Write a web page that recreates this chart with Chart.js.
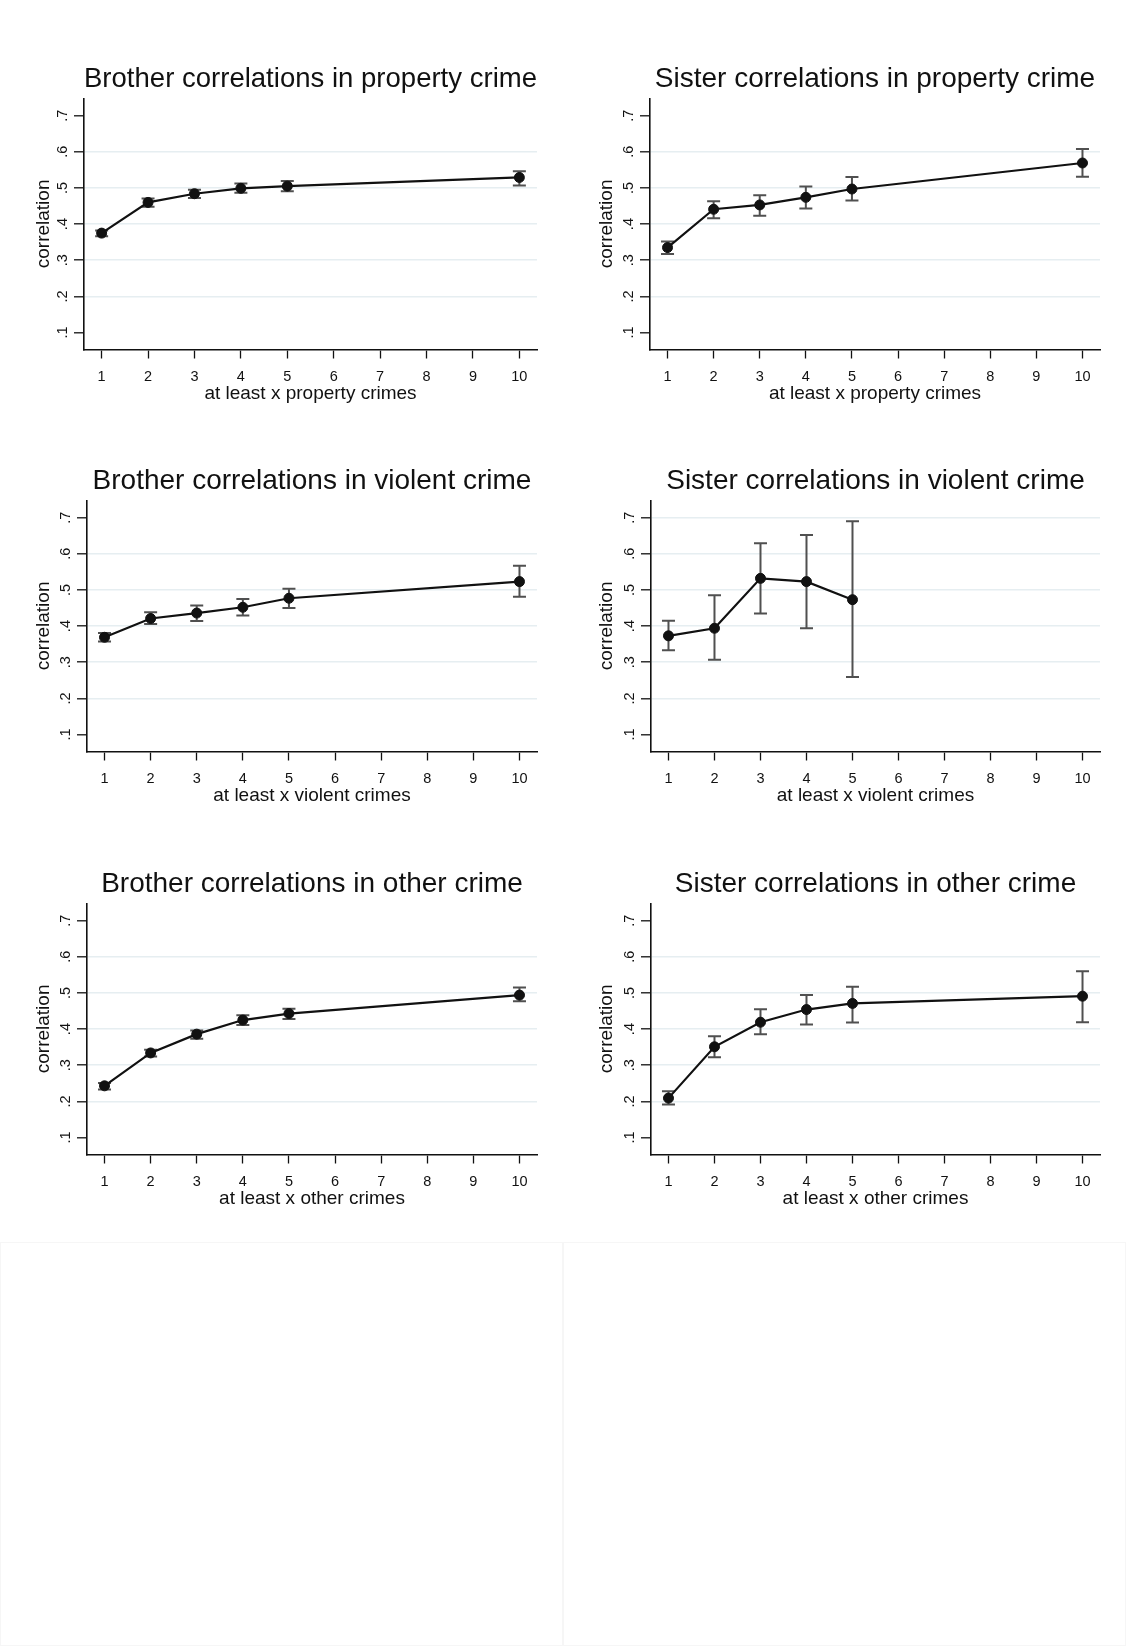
<!DOCTYPE html>
<html lang="en">
<head>
  <meta charset="UTF-8">
  <title>Sibling correlations in crime</title>
  <script src="https://cdn.jsdelivr.net/npm/chart.js"></script>
  <style>
    body {
      margin: 0;
      width: 1126px;
      height: 1646px;
      position: relative;
      overflow: hidden;
      background: #fff;
      font-family: 'Liberation Sans', Arial, sans-serif;
    }
    canvas { position: absolute; }
    .blank {
      position: absolute;
      top: 1242px;
      width: 561px;
      height: 402px;
      border: 1px solid #f6f6f6;
    }
  </style>
</head>
<body>
  <canvas id="c1" width="563" height="420" style="left:0;top:0"></canvas>
  <canvas id="c2" width="563" height="420" style="left:563px;top:0"></canvas>
  <canvas id="c3" width="563" height="420" style="left:0;top:402px"></canvas>
  <canvas id="c4" width="563" height="420" style="left:563px;top:402px"></canvas>
  <canvas id="c5" width="563" height="420" style="left:0;top:805px"></canvas>
  <canvas id="c6" width="563" height="420" style="left:563px;top:805px"></canvas>
  <div class="blank" style="left:0"></div>
  <div class="blank" style="left:563px"></div>

  <script>
    // axis ticks
    const xTicks = [1, 2, 3, 4, 5, 6, 7, 8, 9, 10];
    const yTicks = [0.1, 0.2, 0.3, 0.4, 0.5, 0.6, 0.7];

    // "at least x crimes"
    const xCrimes = [1, 2, 3, 4, 5, 10];
    const xSisterViolent = [1, 2, 3, 4, 5];

    const brotherProperty   = [0.375, 0.460, 0.484, 0.499, 0.505, 0.529];
    const brotherPropertyLo = [0.366, 0.448, 0.472, 0.487, 0.491, 0.507];
    const brotherPropertyHi = [0.382, 0.471, 0.495, 0.512, 0.519, 0.546];

    const sisterProperty    = [0.335, 0.441, 0.453, 0.474, 0.497, 0.569];
    const sisterPropertyLo  = [0.317, 0.416, 0.423, 0.443, 0.465, 0.531];
    const sisterPropertyHi  = [0.352, 0.463, 0.480, 0.504, 0.530, 0.608];

    const brotherViolent    = [0.369, 0.421, 0.436, 0.452, 0.477, 0.523];
    const brotherViolentLo  = [0.357, 0.406, 0.414, 0.429, 0.450, 0.481];
    const brotherViolentHi  = [0.381, 0.438, 0.457, 0.475, 0.503, 0.567];

    const sisterViolent     = [0.373, 0.394, 0.532, 0.523, 0.473];
    const sisterViolentLo   = [0.333, 0.307, 0.435, 0.394, 0.259];
    const sisterViolentHi   = [0.415, 0.485, 0.629, 0.652, 0.690];

    const brotherOther      = [0.243, 0.334, 0.386, 0.425, 0.443, 0.494];
    const brotherOtherLo    = [0.233, 0.324, 0.373, 0.411, 0.428, 0.477];
    const brotherOtherHi    = [0.251, 0.343, 0.396, 0.438, 0.456, 0.515];

    const sisterOther       = [0.209, 0.351, 0.419, 0.454, 0.471, 0.491];
    const sisterOtherLo     = [0.191, 0.322, 0.386, 0.413, 0.418, 0.419];
    const sisterOtherHi     = [0.228, 0.380, 0.455, 0.494, 0.517, 0.560];

    const gridShort = [0.2, 0.3, 0.4, 0.5, 0.6];
    const gridLong = [0.2, 0.3, 0.4, 0.5, 0.6, 0.7];

    const panels = [
      { id: 'c1', title: 'Brother correlations in property crime', xTitle: 'at least x property crimes',
        x: xCrimes, y: brotherProperty, lo: brotherPropertyLo, hi: brotherPropertyHi, grid: gridShort, axisLeft: 84 },
      { id: 'c2', title: 'Sister correlations in property crime', xTitle: 'at least x property crimes',
        x: xCrimes, y: sisterProperty, lo: sisterPropertyLo, hi: sisterPropertyHi, grid: gridShort, axisLeft: 87 },
      { id: 'c3', title: 'Brother correlations in violent crime', xTitle: 'at least x violent crimes',
        x: xCrimes, y: brotherViolent, lo: brotherViolentLo, hi: brotherViolentHi, grid: gridShort, axisLeft: 87 },
      { id: 'c4', title: 'Sister correlations in violent crime', xTitle: 'at least x violent crimes',
        x: xSisterViolent, y: sisterViolent, lo: sisterViolentLo, hi: sisterViolentHi, grid: gridLong, axisLeft: 88 },
      { id: 'c5', title: 'Brother correlations in other crime', xTitle: 'at least x other crimes',
        x: xCrimes, y: brotherOther, lo: brotherOtherLo, hi: brotherOtherHi, grid: gridShort, axisLeft: 87 },
      { id: 'c6', title: 'Sister correlations in other crime', xTitle: 'at least x other crimes',
        x: xCrimes, y: sisterOther, lo: sisterOtherLo, hi: sisterOtherHi, grid: gridShort, axisLeft: 88 }
    ];

    const FONT = "'Liberation Sans', Arial, sans-serif";
    const INK = '#111';
    Chart.defaults.font.family = FONT;
    Chart.defaults.color = INK;

    // error bars (rcap) + rotated y tick labels
    const stataBits = {
      id: 'stataBits',
      beforeDatasetsDraw(chart) {
        const { ctx, scales: { x, y } } = chart;
        const ds = chart.data.datasets[0];
        ctx.save();
        ctx.strokeStyle = '#505050';
        ctx.lineWidth = 2;
        ds.data.forEach((pt, i) => {
          const px = x.getPixelForValue(pt.x);
          const pl = y.getPixelForValue(ds.errLo[i]);
          const ph = y.getPixelForValue(ds.errHi[i]);
          ctx.beginPath();
          ctx.moveTo(px, pl); ctx.lineTo(px, ph);
          ctx.moveTo(px - 6.5, pl); ctx.lineTo(px + 6.5, pl);
          ctx.moveTo(px - 6.5, ph); ctx.lineTo(px + 6.5, ph);
          ctx.stroke();
        });
        ctx.restore();
      },
      afterDraw(chart) {
        const { ctx, scales: { y } } = chart;
        ctx.save();
        ctx.font = '14.5px ' + FONT;
        ctx.fillStyle = INK;
        ctx.textAlign = 'center';
        ctx.textBaseline = 'middle';
        y.ticks.forEach(t => {
          ctx.save();
          ctx.translate(y.right - 21.5, y.getPixelForValue(t.value));
          ctx.rotate(-Math.PI / 2);
          ctx.fillText(t.value.toFixed(1).replace(/^0/, ''), 0, 0);
          ctx.restore();
        });
        ctx.restore();
      }
    };

    panels.forEach(p => {
      new Chart(document.getElementById(p.id), {
        type: 'line',
        data: {
          datasets: [{
            data: p.x.map((xv, i) => ({ x: xv, y: p.y[i] })),
            errLo: p.lo,
            errHi: p.hi,
            borderColor: INK,
            borderWidth: 2.2,
            pointRadius: 5,
            pointBackgroundColor: INK,
            pointBorderColor: INK,
            pointBorderWidth: 1,
            tension: 0
          }]
        },
        options: {
          responsive: false,
          animation: false,
          events: [],
          layout: { padding: { left: 0, right: 26, top: 0, bottom: 0 } },
          plugins: {
            legend: { display: false },
            tooltip: { enabled: false },
            title: {
              display: true,
              text: p.title,
              fullSize: false,
              color: INK,
              font: { size: 28, weight: 'normal' },
              padding: { top: 62.8, bottom: 1.9 }
            }
          },
          scales: {
            x: {
              type: 'linear',
              min: 0.62,
              max: 10.38,
              bounds: 'data',
              afterBuildTicks: s => { s.ticks = xTicks.map(v => ({ value: v })); },
              afterFit: s => { s.height = 70.5; s.paddingLeft = 0; s.paddingRight = 0; },
              ticks: { font: { size: 14.5 }, color: INK, padding: 9.3, maxRotation: 0, autoSkip: false },
              grid: { drawOnChartArea: false, drawTicks: true, tickLength: 9, tickColor: INK, tickWidth: 1.3 },
              border: { display: true, color: INK, width: 1.6 },
              title: { display: true, text: p.xTitle, color: INK, font: { size: 19 }, padding: { top: 0, bottom: 15.1 } }
            },
            y: {
              type: 'linear',
              min: 0.053,
              max: 0.748,
              bounds: 'data',
              afterBuildTicks: s => { s.ticks = yTicks.map(v => ({ value: v })); },
              afterFit: s => { s.width = p.axisLeft; s.paddingTop = 0; s.paddingBottom = 0; },
              ticks: { display: false },
              grid: {
                color: c => p.grid.some(g => Math.abs(g - c.tick.value) < 1e-6) ? '#e6eef1' : 'rgba(0,0,0,0)',
                lineWidth: 1.6,
                drawTicks: true,
                tickLength: 10,
                tickColor: INK,
                tickWidth: 1.3
              },
              border: { display: true, color: INK, width: 1.6 },
              title: { display: true, text: 'correlation', color: INK, font: { size: 19 }, padding: { top: 32.1, bottom: 0 } }
            }
          }
        },
        plugins: [stataBits]
      });
    });
  </script>
</body>
</html>
